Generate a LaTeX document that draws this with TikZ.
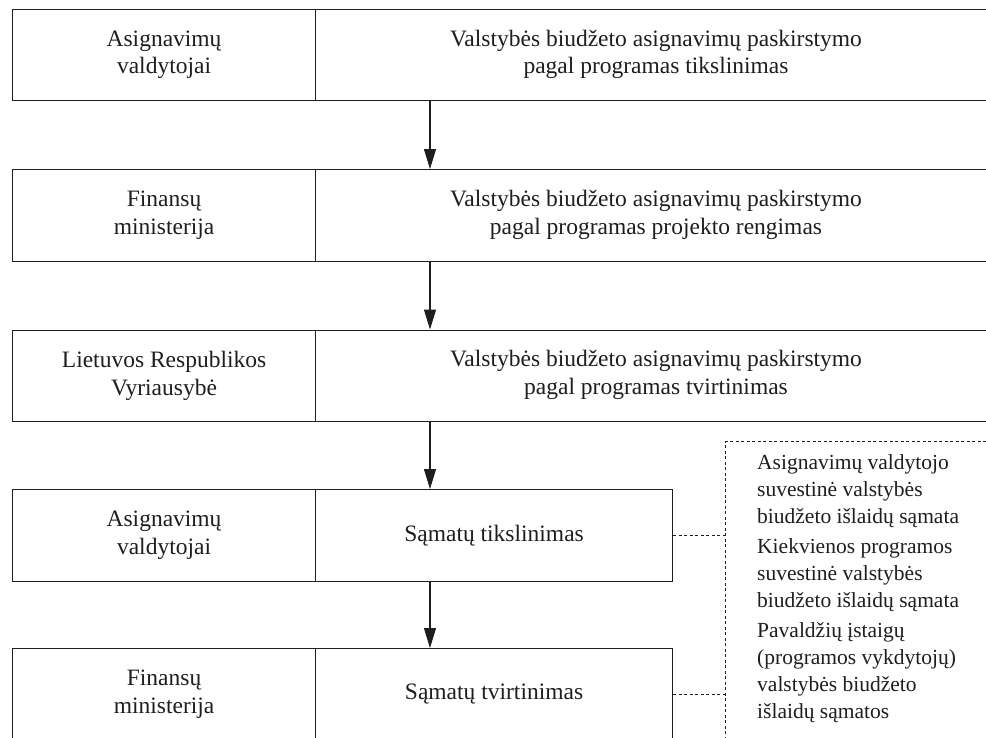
\documentclass[tikz,border=0pt]{standalone}
\usepackage{fontspec}
\setmainfont{Liberation Serif}
\usetikzlibrary{arrows.meta}
\definecolor{ink}{HTML}{1E1E1E}
\begin{document}
\begin{tikzpicture}[x=1pt,y=-1pt,
  cellbox/.style={draw=ink, line width=1.1pt, anchor=north west, inner sep=0pt,
    minimum height=91.5pt, text=ink, align=center,
    font=\fontsize{23.5}{27.5}\selectfont},
  leftcell/.style={cellbox, minimum width=303pt},
  widecell/.style={cellbox, minimum width=700pt},
  narrowcell/.style={cellbox, minimum width=357pt},
  celltext/.style={text=ink, align=center, font=\fontsize{23.5}{27.5}\selectfont},
  flow/.style={draw=ink, line width=1.1pt, -{Triangle[length=20pt,width=12pt]}},
  dashlink/.style={draw=ink, line width=1pt, dash pattern=on 3pt off 2.5pt},
  notebox/.style={draw=ink, line width=1pt, dash pattern=on 3pt off 2.5pt,
    anchor=north west, minimum width=320pt, minimum height=330pt, inner sep=0pt},
  noteline/.style={anchor=base west, inner sep=0pt, text=ink,
    font=\fontsize{21.5}{27}\selectfont}]
\useasboundingbox (0,0) rectangle (986,737);
\clip (0,0) rectangle (986,737);

% row 1
\node[leftcell] (r1l) at (12,8.5) {Asignavimų\\valdytojai};
\node[widecell] (r1r) at (315,8.5) {};
\node[celltext] (t1) at (656,54.5)
  {Valstybės biudžeto asignavimų paskirstymo\\pagal programas tikslinimas};
% row 2
\node[leftcell] (r2l) at (12,169) {Finansų\\ministerija};
\node[widecell] (r2r) at (315,169) {};
\node[celltext] (t2) at (656,215)
  {Valstybės biudžeto asignavimų paskirstymo\\pagal programas projekto rengimas};
% row 3
\node[leftcell] (r3l) at (12,329.5) {Lietuvos Respublikos\\Vyriausybė};
\node[widecell] (r3r) at (315,329.5) {};
\node[celltext] (t3) at (656,375)
  {Valstybės biudžeto asignavimų paskirstymo\\pagal programas tvirtinimas};
% row 4
\node[leftcell] (r4l) at (12,489) {Asignavimų\\valdytojai};
\node[narrowcell] (r4r) at (315,489) {Sąmatų tikslinimas};
% row 5
\node[leftcell] (r5l) at (12,648) {Finansų\\ministerija};
\node[narrowcell] (r5r) at (315,648) {Sąmatų tvirtinimas};

% arrows
\coordinate (ax) at (430,0);
\draw[flow] (r1r.south -| ax) -- (r2r.north -| ax);
\draw[flow] (r2r.south -| ax) -- (r3r.north -| ax);
\draw[flow] (r3r.south -| ax) -- (r4r.north -| ax);
\draw[flow] (r4r.south -| ax) -- (r5r.north -| ax);

% notes
\node[notebox] (notes) at (725,441) {};
\draw[dashlink] (r4r.east) -- (r4r.east -| notes.west);
\draw[dashlink] (r5r.east) -- (r5r.east -| notes.west);

\node[noteline] (n1) at (757,469) {Asignavimų valdytojo};
\node[noteline] (n2) at (757,496) {suvestinė valstybės};
\node[noteline] (n3) at (757,523) {biudžeto išlaidų sąmata};
\node[noteline] (n4) at (757,553) {Kiekvienos programos};
\node[noteline] (n5) at (757,580) {suvestinė valstybės};
\node[noteline] (n6) at (757,607) {biudžeto išlaidų sąmata};
\node[noteline] (n7) at (757,637) {Pavaldžių įstaigų};
\node[noteline] (n8) at (757,664) {(programos vykdytojų)};
\node[noteline] (n9) at (757,691) {valstybės biudžeto};
\node[noteline] (n10) at (757,718) {išlaidų sąmatos};
\end{tikzpicture}
\end{document}
